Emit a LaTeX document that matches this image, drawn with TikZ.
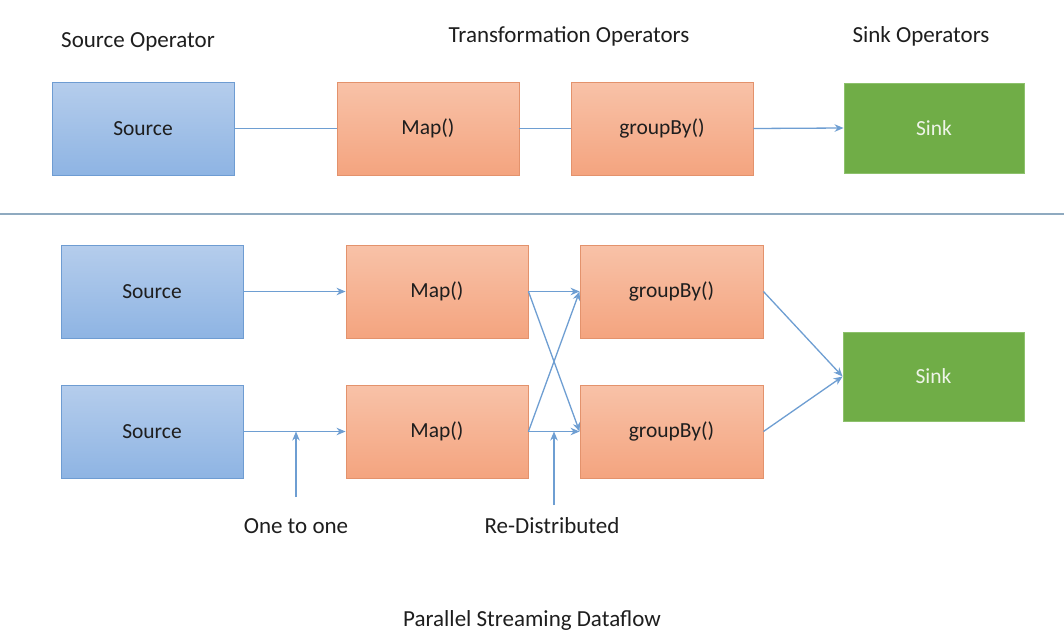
\documentclass[tikz,border=0pt]{standalone}
\usepackage{fontspec}
\setmainfont{Carlito}
\usetikzlibrary{arrows.meta}
\definecolor{srctop}{HTML}{B5CDEC}
\definecolor{srcbot}{HTML}{8EB4E3}
\definecolor{srcedge}{HTML}{6E9CD2}
\definecolor{optop}{HTML}{F8C2A8}
\definecolor{opbot}{HTML}{F4A47F}
\definecolor{opedge}{HTML}{E3926C}
\definecolor{sinkfill}{HTML}{70AD47}
\definecolor{sinkedge}{HTML}{8DC16C}
\definecolor{sinktext}{HTML}{EEF4E8}
\definecolor{flowc}{HTML}{6E9ED2}
\definecolor{sepc}{HTML}{8FAAC0}
\definecolor{txt}{HTML}{1E1E1E}
\tikzset{
  boxbase/.style={rectangle, inner sep=0pt, line width=0.9pt, minimum width=182pt, minimum height=93pt, font=\fontsize{21.5}{24}\selectfont, text=txt},
  srcbox/.style={boxbase, top color=srctop, bottom color=srcbot, draw=srcedge},
  opbox/.style={boxbase, top color=optop, bottom color=opbot, draw=opedge},
  sinkbox/.style={boxbase, fill=sinkfill, draw=sinkedge, text=sinktext},
  flow/.style={draw=flowc, line width=1.3pt},
  flowarrow/.style={flow, -{Stealth[length=9pt,width=7.5pt]}},
  lbl/.style={anchor=base, inner sep=0pt, font=\fontsize{23}{26}\selectfont, text=txt},
}
\begin{document}
\begin{tikzpicture}[x=1pt,y=-1pt]
\useasboundingbox[fill=white] (0,0) rectangle (1064,642);

% headings
\node[lbl] (hsrc) at (138,48) {Source Operator};
\node[lbl] (htr) at (569,43) {Transformation Operators};
\node[lbl] (hsink) at (921,43) {Sink Operators};

% top row
\node[srcbox] (tsrc) at (143,128.5) {Source};
\node[opbox] (tmap) at (428,128.5) {Map()};
\node[opbox] (tgrp) at (662,128.5) {groupBy()};
\node[sinkbox, minimum width=180pt, minimum height=90pt] (tsink) at (934,128) {Sink};

\draw[flow] (tsrc.east) -- (tmap.west);
\draw[flow] (tmap.east) -- (tgrp.west);
\draw[flowarrow] (tgrp.east) -- (tsink.west);

% separator
\coordinate (sepl) at (0,214);
\coordinate (sepr) at (1064,214);
\draw[draw=sepc, line width=1.2pt] (sepl) -- (sepr);

% bottom rows
\node[srcbox] (src1) at (152,291.5) {Source};
\node[opbox] (map1) at (437,291.5) {Map()};
\node[opbox, minimum width=183pt] (grp1) at (671.5,291.5) {groupBy()};
\node[srcbox] (src2) at (152,431.5) {Source};
\node[opbox] (map2) at (437,431.5) {Map()};
\node[opbox, minimum width=183pt] (grp2) at (671.5,431.5) {groupBy()};
\node[sinkbox, minimum width=181pt, minimum height=89pt] (bsink) at (933.5,376.5) {Sink};

\draw[flowarrow] (src1.east) -- (map1.west);
\draw[flowarrow] (src2.east) -- (map2.west);
\draw[flowarrow] (map1.east) -- (grp1.west);
\draw[flowarrow] (map1.east) -- (grp2.west);
\draw[flowarrow] (map2.east) -- (grp2.west);
\draw[flowarrow] (map2.east) -- (grp1.west);
\draw[flowarrow] (grp1.east) -- (bsink.west);
\draw[flowarrow] (grp2.east) -- (bsink.west);

% annotations
\coordinate (oneend) at (296,431.5);
\coordinate (onestart) at (296,497);
\coordinate (reend) at (554,431.5);
\coordinate (restart) at (554,505);
\draw[flowarrow] (onestart) -- (oneend);
\draw[flowarrow] (restart) -- (reend);
\node[lbl] (lone) at (296,533) {One to one};
\node[lbl] (lre) at (552,533) {Re-Distributed};
\node[lbl] (ltitle) at (532,626) {Parallel Streaming Dataflow};
\end{tikzpicture}
\end{document}
